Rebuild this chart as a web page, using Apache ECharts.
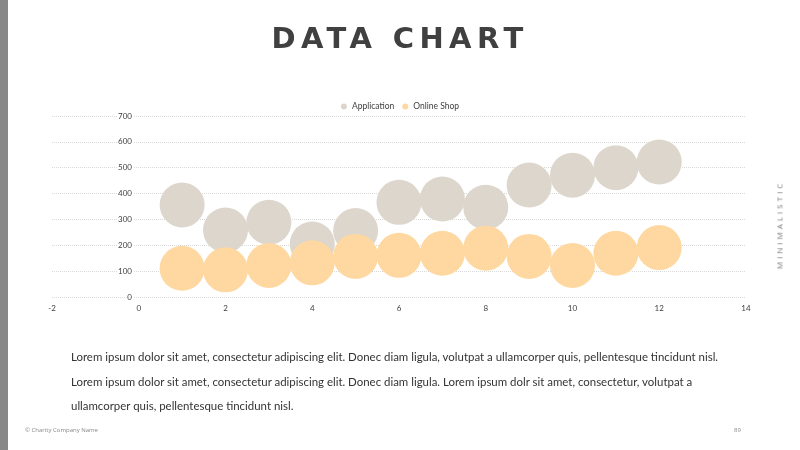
<!DOCTYPE html>
<html>
<head>
<meta charset="utf-8">
<script src="https://cdn.jsdelivr.net/npm/echarts@6/dist/echarts.min.js"></script>
<style>
  html, body { margin: 0; padding: 0; background: #fff; }
  #page { position: relative; width: 800px; height: 450px; overflow: hidden; font-family: 'Open Sans', sans-serif; }
  #chart { position: absolute; left: 0; top: 0; width: 800px; height: 450px; }
  .bar { position: absolute; left: 0; top: 0; width: 8px; height: 450px; background: #888; }
  .title { position: absolute; left: 0; width: 800px; top: 21px; text-align: center; font-family: 'DejaVu Sans', sans-serif; font-weight: bold; font-size: 29px; letter-spacing: 5.4px; color: #404040; }
  .side { position: absolute; left: 779px; top: 225px; transform: translate(-50%, -50%) rotate(-90deg); font-size: 8px; letter-spacing: 3px; color: #777; white-space: nowrap; }
  .text { position: absolute; left: 71px; font-size: 11.45px; color: #333; font-family: 'Lato', sans-serif; white-space: nowrap; }
  .foot { position: absolute; top: 426px; font-size: 6px; color: #888; }
</style>
</head>
<body>
<div id="page">
  <div id="chart"></div>
  <div class="bar"></div>
  <div class="title">DATA CHART</div>
  <div class="side">MINIMALISTIC</div>
  <div class="text" style="top:350px">Lorem ipsum dolor sit amet, consectetur adipiscing elit. Donec diam ligula, volutpat a ullamcorper quis, pellentesque tincidunt nisl.</div>
  <div class="text" style="top:375px">Lorem ipsum dolor sit amet, consectetur adipiscing elit. Donec diam ligula. Lorem ipsum dolr sit amet, consectetur, volutpat a</div>
  <div class="text" style="top:399px">ullamcorper quis, pellentesque tincidunt nisl.</div>
  <div class="foot" style="left:25px">© Charity Company Name</div>
  <div class="foot" style="left:734px">89</div>
</div>
<script>
const xValues = [1, 2, 3, 4, 5, 6, 7, 8, 9, 10, 11, 12];
const application = [356, 259, 289, 205, 257, 366, 379, 347, 433, 471, 500, 522];
const onlineShop = [111, 105, 122, 132, 157, 161, 169, 189, 157, 122, 169, 191];

const chart = echarts.init(document.getElementById('chart'));

function pairs(ys) {
    return xValues.map((x, i) => [x, ys[i]]);
}

chart.setOption({
    animation: false,
    textStyle: { fontFamily: 'Lato' },
    legend: {
        top: 97,
        left: 'center',
        icon: 'circle',
        itemWidth: 6,
        itemHeight: 6,
        itemGap: 8,
        textStyle: { fontSize: 8.5, color: '#404040' },
        data: ['Application', 'Online Shop']
    },
    grid: { left: 52, right: 54, top: 116, bottom: 153 },
    xAxis: {
        type: 'value',
        min: -2,
        max: 14,
        interval: 2,
        axisLine: { show: false },
        axisTick: { show: false },
        splitLine: { show: false },
        axisLabel: { fontSize: 8, color: '#404040', margin: 7 }
    },
    yAxis: {
        type: 'value',
        min: 0,
        max: 700,
        interval: 100,
        // axis sits at x = 0 (two x-steps right of the grid edge)
        offset: -87,
        axisLine: { show: false },
        axisTick: { show: false },
        splitLine: { lineStyle: { color: '#d9d9d9', type: 'dotted', width: 1 } },
        axisLabel: { fontSize: 8, color: '#404040', margin: 6, backgroundColor: '#fff', padding: [0, 1] }
    },
    series: [
        {
            name: 'Application',
            type: 'scatter',
            symbolSize: 45,
            itemStyle: { color: '#ddd6cc', opacity: 1 },
            data: pairs(application)
        },
        {
            name: 'Online Shop',
            type: 'scatter',
            symbolSize: 45,
            itemStyle: { color: '#fed8a0', opacity: 1 },
            data: pairs(onlineShop)
        }
    ]
});
</script>
</body>
</html>
